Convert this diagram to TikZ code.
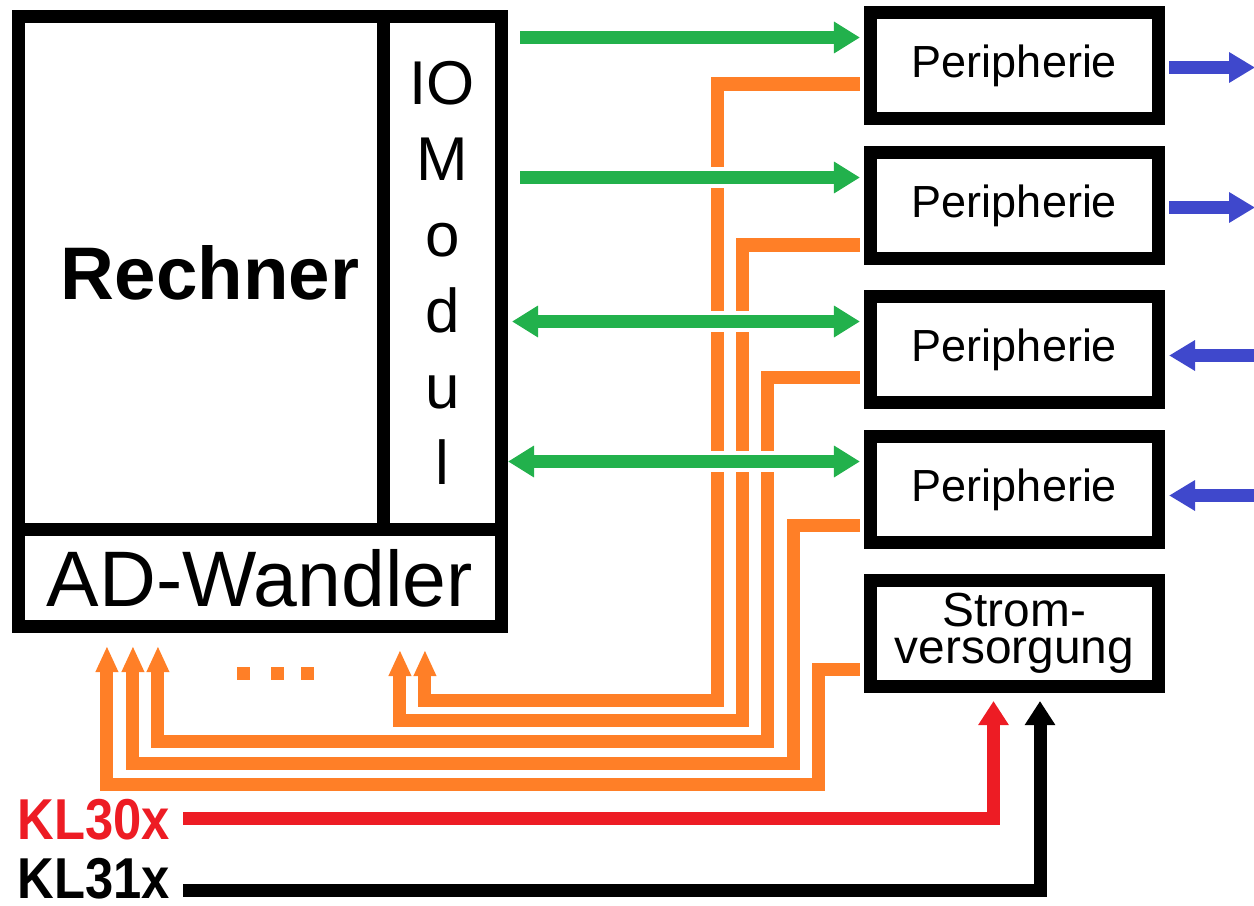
\documentclass[tikz,border=0pt]{standalone}
\usepackage{fontspec}
\setmainfont{Liberation Sans}
\usetikzlibrary{positioning, calc, arrows.meta}
\definecolor{pgreen}{RGB}{34,177,76}
\definecolor{porange}{RGB}{255,127,39}
\definecolor{pblue}{RGB}{63,72,204}
\definecolor{pred}{RGB}{237,28,36}

\begin{document}
\begin{tikzpicture}[
    x=0.025cm, y=-0.025cm,
    block/.style={draw=black, line width=0.325cm, inner sep=0pt, fill=white},
    periph/.style={block, minimum width=7.2cm, minimum height=2.65cm,
        font=\fontsize{32}{34}\selectfont},
    gline/.style={line width=0.325cm, color=pgreen,
        >={Triangle[length=0.65cm, width=0.75cm]},
        preaction={draw=white, line width=0.525cm, -}},
    oline/.style={-{Triangle[length=0.65cm, width=0.525cm]}, line width=0.325cm, color=porange},
    bline/.style={line width=0.325cm, color=pblue, >={Triangle[length=0.65cm, width=0.725cm]}},
    pline/.style={-{Triangle[length=0.6cm, width=0.725cm]}, line width=0.325cm},
    kl/.style={anchor=east, inner sep=0pt, font=\fontsize{41}{43}\selectfont\bfseries}
]
\useasboundingbox (0,0) rectangle (1254,906);
\clip (0,0) rectangle (1254,906);

% Rechner with IO module and AD converter
\node[block, minimum width=9.125cm, minimum height=12.825cm,
      font=\fontsize{53}{55}\selectfont\bfseries] (rechner) at (201,273) {\hspace*{0.45cm}Rechner};
\node[block, minimum width=2.9375cm, minimum height=12.825cm, align=center,
      font=\fontsize{44}{54}\selectfont] (iom) at (442.25,273) {IO\\M\\o\\d\\u\\l};
\node[block, minimum width=12.0625cm, minimum height=2.425cm,
      font=\fontsize{56}{58}\selectfont] (adw) at (259.75,578) {AD-Wandler};

% periphery
\node[periph] (p1) at (1014.5,65.5) {Peripherie};
\node[periph] (p2) at (1014.5,205.5) {Peripherie};
\node[periph] (p3) at (1014.5,349.5) {Peripherie};
\node[periph] (p4) at (1014.5,489.5) {Peripherie};
\node[periph, align=center, font=\fontsize{34}{26}\selectfont] (strom) at (1014.5,633.5) {Strom-\\versorgung};

% supply terminals
\node[kl, text=pred] (kl30) at (170,820) {\scalebox{0.88}[1]{KL30x}};
\node[kl, text=black] (kl31) at (170,879) {\scalebox{0.88}[1]{KL31x}};

% analog inputs
\coordinate (in1) at ($(adw.south west)+(95,13)$);
\coordinate (in2) at ($(adw.south west)+(121,13)$);
\coordinate (in3) at ($(adw.south west)+(146,13)$);
\coordinate (in4) at ($(adw.south west)+(388,17)$);
\coordinate (in5) at ($(adw.south west)+(413,17)$);
\foreach \x in {243.5, 277.5, 307}
    \fill[porange] (\x-6.5,667) rectangle (\x+6.5,680);

\draw[oline] ($(p1.west)+(-4,18.5)$) -| ++(-142,616) -| (in5);
\draw[oline] ($(p2.west)+(-4,39.5)$) -| ++(-117,475) -| (in4);
\draw[oline] ($(p3.west)+(-4,27.5)$) -| ++(-92,364) -| (in3);
\draw[oline] ($(p4.west)+(-4,35.5)$) -| ++(-66,238) -| (in2);
\draw[oline] ($(strom.west)+(-4,35.5)$) -| ++(-41,115) -| (in1);

% IO lines
\draw[gline, ->] ($(iom.east |- p1.west)+(12.5,-28)$) -- ($(p1.west)+(-4,-28)$);
\draw[gline, ->] ($(iom.east |- p2.west)+(12.5,-28)$) -- ($(p2.west)+(-4,-28)$);
\draw[gline, <->] ($(iom.east |- p3.west)+(4.5,-28)$) -- ($(p3.west)+(-4,-28)$);
\draw[gline, <->] ($(iom.east |- p4.west)+(0.5,-28)$) -- ($(p4.west)+(-4,-28)$);

\draw[bline, ->] ($(p1.east)+(4,2)$) -- ++(86,0);
\draw[bline, ->] ($(p2.east)+(4,2)$) -- ++(86,0);
\draw[bline, <-] ($(p3.east)+(4,6)$) -- ++(86,0);
\draw[bline, <-] ($(p4.east)+(4,6)$) -- ++(86,0);

\draw[pline, color=pred] ($(kl30.east)+(13,-2)$) -| ($(strom.south)+(-21,8)$);
\draw[pline, color=black] ($(kl31.east)+(13,11)$) -| ($(strom.south)+(25.5,8)$);
\end{tikzpicture}
\end{document}
